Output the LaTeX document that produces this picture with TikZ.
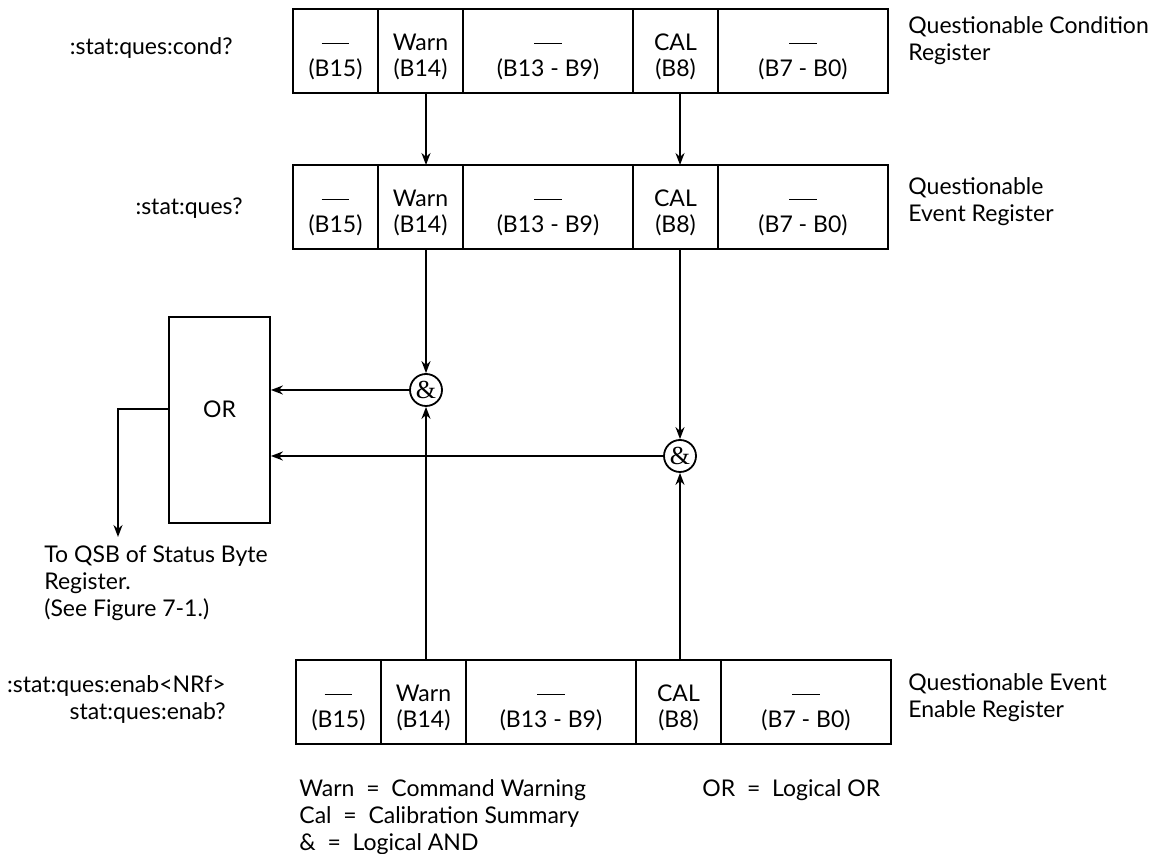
\documentclass[tikz,border=0pt]{standalone}
\usepackage{fontspec}
\setmainfont{Lato}
\newfontfamily\ampfont{Liberation Serif}
\usetikzlibrary{arrows.meta, positioning}
\newcommand{\bitdash}{\rule[0.3em]{1.2em}{0.6pt}}
\newcommand{\cellstrut}{\rule{0pt}{14.5pt}}
% one register row: name prefix, x of left edge, y of middle
\newcommand{\qreg}[3]{%
  \node[cell, minimum width=42.5pt, anchor=west] (#1a) at (#2,#3) {\cellstrut\bitdash\\(B15)};
  \node[cell, minimum width=42.5pt, right=0pt of #1a] (#1b) {\cellstrut Warn\\(B14)};
  \node[cell, minimum width=85pt, right=0pt of #1b] (#1c) {\cellstrut\bitdash\\(B13 - B9)};
  \node[cell, minimum width=42.5pt, right=0pt of #1c] (#1d) {\cellstrut CAL\\(B8)};
  \node[cell, minimum width=85pt, right=0pt of #1d] (#1e) {\cellstrut\bitdash\\(B7 - B0)};
}

\begin{document}
\begin{tikzpicture}[
  x=0.5pt, y=-0.5pt,
  every node/.style={font=\fontsize{11.5pt}{13.5pt}\selectfont, inner sep=0pt},
  cell/.style={draw, line width=0.9pt, align=center, minimum height=42pt, outer sep=0pt,
    font=\fontsize{11.5pt}{13pt}\selectfont},
  gate/.style={draw, circle, line width=0.9pt, minimum size=16pt, font=\ampfont\fontsize{13pt}{13pt}\selectfont},
  orbox/.style={draw, line width=0.9pt, minimum width=50.5pt, minimum height=103pt},
  arrow/.style={-{Stealth[length=6pt, width=4.5pt]}, line width=0.9pt}
]
\useasboundingbox (0,0) rectangle (1157,854);

\qreg{r1}{293}{51}
\qreg{r2}{293}{207}
\qreg{r3}{296}{702}

\node[gate] (g1) at (426,390) {\&};
\node[gate] (g2) at (680,456) {\&};
\node[orbox] (or) at (219.5,420) {};
\node (ortext) at (219.5,409) {OR};
\coordinate (qsb) at (118,537);

\draw[arrow] (r1b.south -| g1) -- (r2b.north -| g1);
\draw[arrow] (r1d.south -| g2) -- (r2d.north -| g2);
\draw[arrow] (r2b.south -| g1) -- (g1);
\draw[arrow] (r2d.south -| g2) -- (g2);
\draw[arrow] (r3b.north -| g1) -- (g1);
\draw[arrow] (r3d.north -| g2) -- (g2);
\draw[arrow] (g1) -- (g1 -| or.east);
\draw[arrow] (g2) -- (g2 -| or.east);
\draw[arrow] (ortext -| or.west) -| (qsb);

\node[anchor=east] (condcmd) at (233,48) {:stat:ques:cond?};
\node[anchor=east] (evcmd) at (243,208) {:stat:ques?};
\node[anchor=east, align=right] (enabcmd) at (226,700) {:stat:ques:enab<NRf>\\stat:ques:enab?};

\node[anchor=west, align=left] (condname) at (908,41) {Questionable Condition\\Register};
\node[anchor=west, align=left] (evname) at (908,202) {Questionable\\Event Register};
\node[anchor=west, align=left] (enabname) at (908,698) {Questionable Event\\Enable Register};

\node[anchor=north west, align=left] (qsbtext) at (44,545) {To QSB of Status Byte\\Register.\\(See Figure 7-1.)};

\node[anchor=north west, align=left] (legend) at (299,779) {Warn\ \ =\ \ Command Warning\\Cal\ \ =\ \ Calibration Summary\\\&\ \ =\ \ Logical AND};
\node[anchor=north west] (orlegend) at (702,779) {OR\ \ =\ \ Logical OR};
\end{tikzpicture}
\end{document}
